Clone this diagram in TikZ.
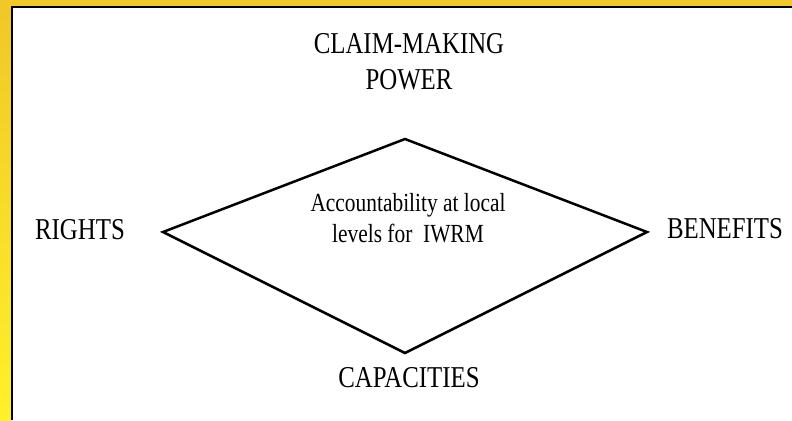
\documentclass[tikz,border=0pt]{standalone}
\usepackage{fontspec}
\setmainfont[FakeStretch=0.82]{Liberation Serif}
\usetikzlibrary{positioning}

\definecolor{framegold}{RGB}{240,200,40}
\definecolor{frameyellow}{RGB}{255,241,42}

\tikzset{
  corner label/.style={font=\fontsize{30.4}{36}\selectfont, inner sep=0pt, align=center},
  inner label/.style={font=\fontsize{26.2}{31.5}\selectfont, inner sep=0pt, align=center},
  diamond edge/.style={line width=2.5bp, line join=miter},
}

\begin{document}
\begin{tikzpicture}[x=1bp, y=-1bp]
\useasboundingbox (0,0) rectangle (792,420);

% slide frame
\fill[white] (0,0) rectangle (792,420);
\fill[framegold] (0,0) rectangle (792,7);
\shade[top color=framegold, bottom color=frameyellow] (0,7) rectangle (12,420);
\draw[line width=2.5bp] (12,420) -- (12,7) -- (792,7);

% corners of the diamond
\coordinate (top) at (405,139);
\coordinate (left) at (163,232);
\coordinate (right) at (647,232);
\coordinate (bottom) at (405,353);

\draw[diamond edge] (top) -- (right) -- (bottom) -- (left) -- cycle;

% labels
\node[corner label, anchor=north] (claim) at (409,33) {CLAIM-MAKING\\POWER};
\node[corner label, anchor=base] (rights) at (80,239) {RIGHTS};
\node[corner label, anchor=base] (benefits) at (725,238) {BENEFITS};
\node[corner label, anchor=base] (capacities) at (409,387) {CAPACITIES};

\node[inner label, anchor=north] (acc) at (408,193) {Accountability at local\\levels for \ IWRM};

\end{tikzpicture}
\end{document}
